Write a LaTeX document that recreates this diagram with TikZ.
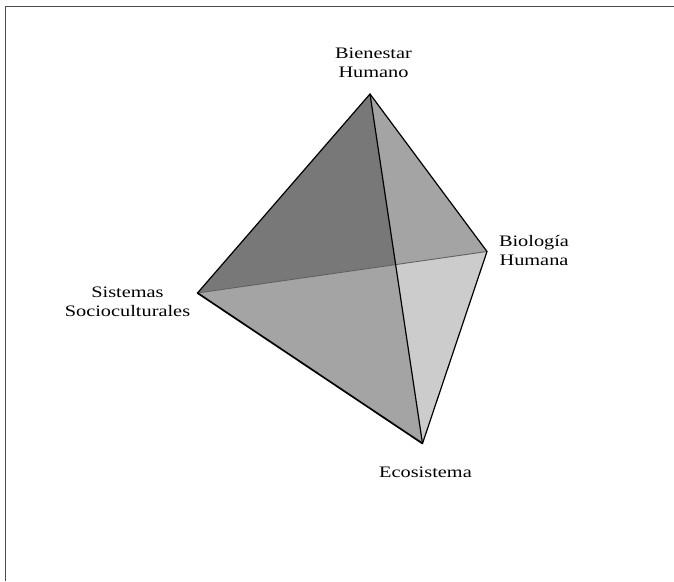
\documentclass[tikz,border=0pt]{standalone}
\usepackage{fontspec}
\setmainfont{Liberation Serif}[FakeStretch=1.27]
\begin{document}
\begin{tikzpicture}[x=1pt,y=-1pt,
  edge/.style={draw=black,line width=1.2pt,line join=round,line cap=round},
  backedge/.style={draw=black!62,line width=0.9pt},
  lbl/.style={inner sep=0pt,align=center,font=\fontsize{16}{18.5}\selectfont},
  frameline/.style={draw=black!70,line width=1.6pt}]
\useasboundingbox (0,0) rectangle (674,581);
\draw[frameline] (674,6.5) -- (5.5,6.5) -- (5.5,581);
\coordinate (T) at (370,94);
\coordinate (R) at (487,251.5);
\coordinate (L) at (197.5,293);
\coordinate (B) at (422.5,443.5);
\coordinate (X) at (intersection of T--B and L--R);
\fill[fill={rgb,255:red,120;green,120;blue,120}] (T) -- (L) -- (X) -- cycle;
\fill[fill={rgb,255:red,164;green,164;blue,164}] (T) -- (X) -- (R) -- cycle;
\fill[fill={rgb,255:red,164;green,164;blue,164}] (L) -- (X) -- (B) -- cycle;
\fill[fill={rgb,255:red,204;green,204;blue,204}] (X) -- (R) -- (B) -- cycle;
\draw[backedge] (L) -- (R);
\draw[edge] (T) -- (L);
\draw[edge] (T) -- (R);
\draw[edge] (T) -- (B);
\draw[edge] (R) -- (B);
\draw[edge,line width=1.7pt] (L) -- (B);
\node[lbl,anchor=base] (bh) at (373.5,77) {Bienestar\\Humano};
\node[lbl,anchor=base] (bio) at (534,265) {Biología\\Humana};
\node[lbl,anchor=base] (ss) at (127.5,316) {Sistemas\\Socioculturales};
\node[lbl,anchor=base] (eco) at (425.5,477) {Ecosistema};
\end{tikzpicture}
\end{document}
